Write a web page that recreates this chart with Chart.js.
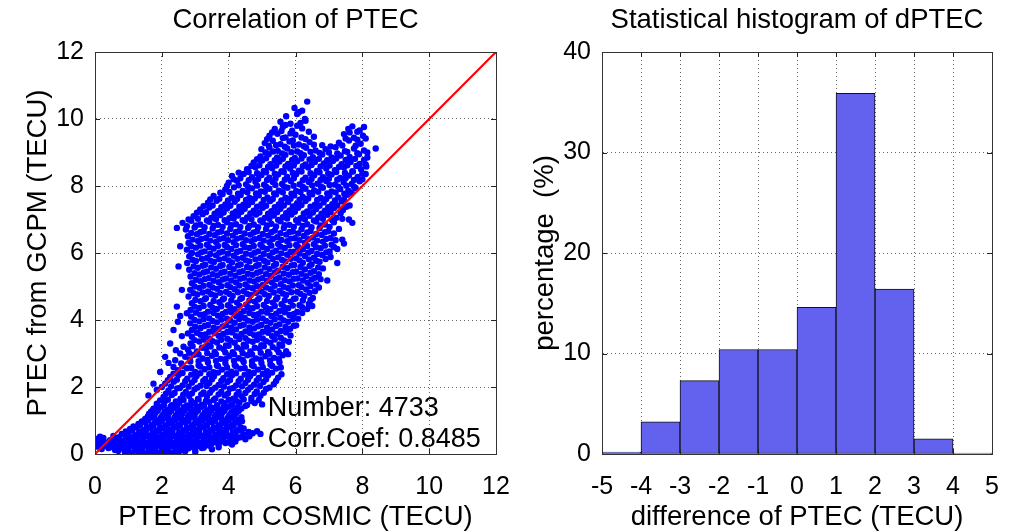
<!DOCTYPE html>
<html>
<head>
<meta charset="utf-8">
<script src="https://cdn.jsdelivr.net/npm/chart.js@4.4.1/dist/chart.umd.min.js"></script>
<style>
  html, body { margin: 0; padding: 0; background: #fff; }
  #wrap { position: relative; width: 1017px; height: 531px; }
  canvas { position: absolute; top: 0; }
</style>
</head>
<body>
<div id="wrap">
  <canvas id="scatter" width="530" height="531" style="left:0;width:530px;height:531px"></canvas>
  <canvas id="hist" width="487" height="531" style="left:530px;width:487px;height:531px"></canvas>
</div>
<script>
// PTEC pairs: [COSMIC, GCPM]
const ptecPoints = [
  [6.35,10.52],
  [5.97,10.33],[6.2,10.25],[6.1,10.2],
  [5.72,10.08],[6.05,10.15],[6.28,10.0],
  [5.55,9.92],[5.85,9.86],[6.3,9.95],[6.05,9.8],[5.7,9.82],[6.15,9.88],[7.7,9.78],
  [5.38,9.7],[5.62,9.76],[5.9,9.65],[6.2,9.72],[7.58,9.7],[8.05,9.76],[7.85,9.62],
  [5.3,9.6],[5.58,9.64],[5.85,9.57],[6.4,9.62],[7.62,9.6],[7.92,9.66],
  [5.22,9.5],[5.46,9.56],[5.7,9.45],[6.0,9.53],[6.55,9.47],[7.45,9.55],[7.75,9.44],[8.02,9.5],[6.3,9.4],
  [5.15,9.4],[5.62,9.43],[5.92,9.36],[6.18,9.45],[7.5,9.42],[7.85,9.38],[8.1,9.42],
  [5.08,9.28],[5.32,9.35],[5.55,9.25],[5.82,9.33],[6.1,9.24],[6.42,9.31],[7.3,9.29],[7.6,9.36],[7.95,9.26],[6.8,9.22],
  [5.2,9.2],[5.42,9.22],[5.68,9.17],[5.95,9.21],[6.25,9.19],[6.55,9.23],[7.05,9.18],[7.4,9.21],[7.8,9.2],
  [4.98,9.1],[5.22,9.15],[5.47,9.05],[5.75,9.12],[6.05,9.03],[6.32,9.14],[6.6,9.06],[6.9,9.1],[7.2,9.16],[7.48,9.04],[7.75,9.12],[8.05,9.06],[8.4,9.12],
  [5.1,9.0],[5.33,9.03],[5.6,8.97],[5.88,9.01],[6.15,8.98],[6.45,9.02],[6.72,8.99],[7.0,9.0],[7.25,8.97],[7.55,9.02],[7.85,8.98],[8.15,9.0],
  [4.95,8.88],[5.2,8.95],[5.45,8.85],[5.7,8.93],[5.98,8.84],[6.25,8.92],[6.52,8.86],[6.8,8.94],[7.08,8.85],[7.35,8.91],[7.62,8.87],[7.9,8.95],[8.15,8.85],
  [4.85,8.8],[5.12,8.83],[5.38,8.77],[5.62,8.81],[5.9,8.78],[6.18,8.82],[6.42,8.79],[6.7,8.81],[6.95,8.77],[7.22,8.82],[7.5,8.78],[7.78,8.81],[8.05,8.78],
  [4.75,8.7],[5.0,8.76],[5.25,8.65],[5.52,8.73],[5.78,8.66],[6.05,8.74],[6.3,8.64],[6.58,8.72],[6.85,8.67],[7.12,8.75],[7.38,8.65],[7.65,8.72],[7.92,8.66],[8.12,8.58],
  [4.68,8.6],[4.92,8.62],[5.18,8.57],[5.42,8.61],[5.7,8.58],[5.95,8.62],[6.22,8.59],[6.48,8.63],[6.75,8.58],[7.02,8.61],[7.3,8.57],[7.55,8.62],[7.82,8.6],[8.1,8.64],
  [4.55,8.5],[4.8,8.56],[5.05,8.45],[5.3,8.53],[5.58,8.44],[5.84,8.52],[6.1,8.46],[6.38,8.55],[6.64,8.45],[6.92,8.52],[7.18,8.47],[7.45,8.55],[7.7,8.44],[7.96,8.5],
  [4.3,8.4],[4.6,8.42],[4.85,8.38],[5.12,8.41],[5.38,8.37],[5.65,8.42],[5.92,8.39],[6.18,8.43],[6.45,8.38],[6.72,8.41],[6.98,8.37],[7.22,8.42],[7.48,8.39],[7.72,8.43],[8.0,8.38],
  [4.1,8.3],[4.45,8.36],[4.7,8.26],[4.98,8.33],[5.22,8.25],[5.48,8.34],[5.75,8.27],[6.02,8.35],[6.3,8.25],[6.56,8.32],[6.82,8.26],[7.08,8.34],[7.34,8.24],[7.6,8.31],[7.86,8.27],[8.1,8.36],
  [4.15,8.2],[4.35,8.23],[4.6,8.17],[4.88,8.21],[5.15,8.18],[5.4,8.22],[5.68,8.19],[5.95,8.23],[6.22,8.17],[6.48,8.21],[6.75,8.18],[7.0,8.22],[7.25,8.19],[7.5,8.23],[7.75,8.18],[8.0,8.2],
  [4.0,8.1],[4.25,8.16],[4.52,8.05],[4.8,8.13],[5.06,8.04],[5.32,8.12],[5.6,8.06],[5.86,8.15],[6.12,8.05],[6.4,8.12],[6.66,8.07],[6.92,8.15],[7.18,8.04],[7.44,8.11],[7.68,8.06],[7.92,8.14],
  [3.95,8.0],[4.3,8.02],[4.58,7.97],[4.85,8.01],[5.12,7.98],[5.4,8.03],[5.66,7.98],[5.94,8.01],[6.22,7.97],[6.5,8.02],[6.76,7.99],[7.02,8.03],[7.28,7.98],[7.52,8.01],[7.75,7.98],
  [3.9,7.9],[4.16,7.96],[4.42,7.85],[4.7,7.93],[4.96,7.84],[5.22,7.92],[5.5,7.86],[5.76,7.95],[6.02,7.85],[6.3,7.92],[6.56,7.87],[6.82,7.95],[7.08,7.84],[7.34,7.91],[7.58,7.86],[7.8,7.94],
  [3.75,7.8],[4.02,7.82],[4.28,7.77],[4.56,7.81],[4.82,7.78],[5.08,7.83],[5.36,7.78],[5.62,7.81],[5.88,7.77],[6.15,7.82],[6.42,7.79],[6.68,7.83],[6.95,7.78],[7.2,7.81],[7.46,7.77],[7.68,7.8],
  [3.55,7.7],[3.82,7.76],[4.1,7.65],[4.36,7.73],[4.62,7.64],[4.9,7.72],[5.16,7.66],[5.42,7.75],[5.7,7.65],[5.96,7.72],[6.22,7.67],[6.5,7.75],[6.76,7.64],[7.02,7.71],[7.28,7.66],[7.55,7.74],
  [3.45,7.6],[3.72,7.62],[3.98,7.57],[4.25,7.61],[4.52,7.58],[4.78,7.63],[5.05,7.58],[5.32,7.61],[5.58,7.57],[5.85,7.62],[6.12,7.59],[6.38,7.63],[6.65,7.58],[6.92,7.61],[7.18,7.57],[7.45,7.6],
  [3.38,7.5],[3.64,7.56],[3.9,7.45],[4.18,7.53],[4.44,7.44],[4.7,7.52],[4.98,7.46],[5.24,7.55],[5.5,7.45],[5.78,7.52],[6.04,7.47],[6.3,7.55],[6.58,7.44],[6.84,7.51],[7.1,7.46],[7.38,7.54],[7.62,7.42],
  [3.25,7.4],[3.52,7.42],[3.78,7.37],[4.05,7.41],[4.32,7.38],[4.58,7.43],[4.85,7.38],[5.12,7.41],[5.38,7.37],[5.65,7.42],[5.92,7.39],[6.18,7.43],[6.45,7.38],[6.72,7.41],[6.98,7.37],[7.25,7.42],[7.52,7.38],
  [3.15,7.3],[3.42,7.36],[3.68,7.25],[3.95,7.33],[4.22,7.24],[4.48,7.32],[4.75,7.26],[5.02,7.35],[5.28,7.25],[5.55,7.32],[5.82,7.27],[6.08,7.35],[6.35,7.24],[6.62,7.31],[6.88,7.26],[7.15,7.34],[7.42,7.28],
  [3.05,7.2],[3.32,7.22],[3.58,7.17],[3.85,7.21],[4.12,7.18],[4.38,7.23],[4.65,7.18],[4.92,7.21],[5.18,7.17],[5.45,7.22],[5.72,7.19],[5.98,7.23],[6.25,7.18],[6.52,7.21],[6.78,7.17],[7.05,7.22],[7.35,7.18],
  [2.95,7.1],[3.22,7.16],[3.48,7.05],[3.75,7.13],[4.02,7.04],[4.28,7.12],[4.55,7.06],[4.82,7.15],[5.08,7.05],[5.35,7.12],[5.62,7.07],[5.88,7.15],[6.15,7.04],[6.42,7.11],[6.68,7.06],[6.95,7.14],[7.22,7.05],[7.6,7.0],
  [2.8,7.0],[3.08,7.02],[3.35,6.97],[3.62,7.01],[3.88,6.98],[4.15,7.03],[4.42,6.98],[4.68,7.01],[4.95,6.97],[5.22,7.02],[5.48,6.99],[5.75,7.03],[6.02,6.98],[6.28,7.01],[6.55,6.97],[6.82,7.02],[7.1,6.98],[7.4,7.02],
  [2.62,6.9],[2.88,6.96],[3.15,6.85],[3.42,6.93],[3.68,6.84],[3.95,6.92],[4.22,6.86],[4.48,6.95],[4.75,6.85],[5.02,6.92],[5.28,6.87],[5.55,6.95],[5.82,6.84],[6.08,6.91],[6.35,6.86],[6.62,6.94],[6.88,6.85],[7.15,6.92],[7.7,6.9],
  [2.75,6.8],[3.02,6.82],[3.28,6.77],[3.55,6.81],[3.82,6.78],[4.08,6.83],[4.35,6.78],[4.62,6.81],[4.88,6.77],[5.15,6.82],[5.42,6.79],[5.68,6.83],[5.95,6.78],[6.22,6.81],[6.48,6.77],[6.75,6.82],[7.02,6.78],[2.45,6.75],
  [2.72,6.7],[2.98,6.76],[3.25,6.65],[3.52,6.73],[3.78,6.64],[4.05,6.72],[4.32,6.66],[4.58,6.75],[4.85,6.65],[5.12,6.72],[5.38,6.67],[5.65,6.75],[5.92,6.64],[6.18,6.71],[6.45,6.66],[6.72,6.74],[6.98,6.65],[7.3,6.72],
  [2.88,6.6],[3.15,6.62],[3.42,6.57],[3.68,6.61],[3.95,6.58],[4.22,6.63],[4.48,6.58],[4.75,6.61],[5.02,6.57],[5.28,6.62],[5.55,6.59],[5.82,6.63],[6.08,6.58],[6.35,6.61],[6.62,6.57],[6.88,6.62],[7.15,6.58],
  [2.78,6.5],[3.05,6.56],[3.32,6.45],[3.58,6.53],[3.85,6.44],[4.12,6.52],[4.38,6.46],[4.65,6.55],[4.92,6.45],[5.18,6.52],[5.45,6.47],[5.72,6.55],[5.98,6.44],[6.25,6.51],[6.52,6.46],[6.78,6.54],[7.05,6.45],[7.4,6.4],
  [2.92,6.4],[3.18,6.42],[3.45,6.37],[3.72,6.41],[3.98,6.38],[4.25,6.43],[4.52,6.38],[4.78,6.41],[5.05,6.37],[5.32,6.42],[5.58,6.39],[5.85,6.43],[6.12,6.38],[6.38,6.41],[6.65,6.37],[6.92,6.42],[7.2,6.38],
  [2.8,6.3],[3.08,6.36],[3.35,6.25],[3.62,6.33],[3.88,6.24],[4.15,6.32],[4.42,6.26],[4.68,6.35],[4.95,6.25],[5.22,6.32],[5.48,6.27],[5.75,6.35],[6.02,6.24],[6.28,6.31],[6.55,6.26],[6.82,6.34],[7.08,6.25],[7.45,6.28],
  [2.88,6.2],[3.15,6.22],[3.42,6.17],[3.68,6.21],[3.95,6.18],[4.22,6.23],[4.48,6.18],[4.75,6.21],[5.02,6.17],[5.28,6.22],[5.55,6.19],[5.82,6.23],[6.08,6.18],[6.35,6.21],[6.62,6.17],[6.88,6.22],[7.15,6.18],[2.55,6.2],
  [2.75,6.1],[3.02,6.16],[3.28,6.05],[3.55,6.13],[3.82,6.04],[4.08,6.12],[4.35,6.06],[4.62,6.15],[4.88,6.05],[5.15,6.12],[5.42,6.07],[5.68,6.15],[5.95,6.04],[6.22,6.11],[6.48,6.06],[6.75,6.14],[7.02,6.05],[7.25,6.12],
  [2.9,6.0],[3.18,6.02],[3.45,5.97],[3.72,6.01],[3.98,5.98],[4.25,6.03],[4.52,5.98],[4.78,6.01],[5.05,5.97],[5.32,6.02],[5.58,5.99],[5.85,6.03],[6.12,5.98],[6.38,6.01],[6.65,5.97],[6.92,6.02],
  [2.82,5.9],[3.08,5.96],[3.35,5.85],[3.62,5.93],[3.88,5.84],[4.15,5.92],[4.42,5.86],[4.68,5.95],[4.95,5.85],[5.22,5.92],[5.48,5.87],[5.75,5.95],[6.02,5.84],[6.28,5.91],[6.55,5.86],[6.8,5.94],[7.05,5.88],
  [2.92,5.8],[3.2,5.82],[3.46,5.77],[3.72,5.81],[4.0,5.78],[4.26,5.83],[4.52,5.78],[4.8,5.81],[5.06,5.77],[5.32,5.82],[5.6,5.79],[5.86,5.83],[6.12,5.78],[6.4,5.81],[6.62,5.77],[6.9,5.82],
  [2.76,5.7],[3.02,5.76],[3.3,5.65],[3.56,5.73],[3.82,5.64],[4.1,5.72],[4.36,5.66],[4.62,5.75],[4.9,5.65],[5.16,5.72],[5.42,5.67],[5.7,5.75],[5.96,5.64],[6.22,5.71],[6.48,5.66],[6.72,5.74],[7.25,5.7],
  [2.95,5.6],[3.22,5.62],[3.48,5.57],[3.75,5.61],[4.02,5.58],[4.28,5.63],[4.55,5.58],[4.82,5.61],[5.08,5.57],[5.35,5.62],[5.62,5.59],[5.88,5.63],[6.15,5.58],[6.42,5.61],[6.68,5.57],[2.5,5.6],
  [2.82,5.5],[3.08,5.56],[3.35,5.45],[3.62,5.53],[3.88,5.44],[4.15,5.52],[4.42,5.46],[4.68,5.55],[4.95,5.45],[5.22,5.52],[5.48,5.47],[5.75,5.55],[6.02,5.44],[6.28,5.51],[6.55,5.46],[6.82,5.54],
  [2.98,5.4],[3.25,5.42],[3.52,5.37],[3.78,5.41],[4.05,5.38],[4.32,5.43],[4.58,5.38],[4.85,5.41],[5.12,5.37],[5.38,5.42],[5.65,5.39],[5.92,5.43],[6.18,5.38],[6.45,5.41],[6.7,5.37],
  [2.86,5.3],[3.12,5.36],[3.4,5.25],[3.66,5.33],[3.92,5.24],[4.2,5.32],[4.46,5.26],[4.72,5.35],[5.0,5.25],[5.26,5.32],[5.52,5.27],[5.8,5.35],[6.06,5.24],[6.32,5.31],[6.58,5.26],
  [3.02,5.2],[3.28,5.22],[3.55,5.17],[3.82,5.21],[4.08,5.18],[4.35,5.23],[4.62,5.18],[4.88,5.21],[5.15,5.17],[5.42,5.22],[5.68,5.19],[5.95,5.23],[6.22,5.18],[6.48,5.21],[6.75,5.22],
  [2.9,5.1],[3.16,5.16],[3.42,5.05],[3.7,5.13],[3.96,5.04],[4.22,5.12],[4.5,5.06],[4.76,5.15],[5.02,5.05],[5.3,5.12],[5.56,5.07],[5.82,5.15],[6.1,5.04],[6.36,5.11],[6.62,5.06],[6.95,5.18],
  [2.98,5.0],[3.25,5.02],[3.52,4.97],[3.78,5.01],[4.05,4.98],[4.32,5.03],[4.58,4.98],[4.85,5.01],[5.12,4.97],[5.38,5.02],[5.65,4.99],[5.92,5.03],[6.18,4.98],[6.45,5.01],[6.7,4.97],[2.6,4.9],
  [2.85,4.9],[3.12,4.96],[3.38,4.85],[3.65,4.93],[3.92,4.84],[4.18,4.92],[4.45,4.86],[4.72,4.95],[4.98,4.85],[5.25,4.92],[5.52,4.87],[5.78,4.95],[6.05,4.84],[6.32,4.91],[6.58,4.86],
  [2.95,4.8],[3.22,4.82],[3.48,4.77],[3.75,4.81],[4.02,4.78],[4.28,4.83],[4.55,4.78],[4.82,4.81],[5.08,4.77],[5.35,4.82],[5.62,4.79],[5.88,4.83],[6.15,4.78],[6.42,4.81],
  [2.8,4.7],[3.06,4.76],[3.32,4.65],[3.6,4.73],[3.86,4.64],[4.12,4.72],[4.4,4.66],[4.66,4.75],[4.92,4.65],[5.2,4.72],[5.46,4.67],[5.72,4.75],[6.0,4.64],[6.26,4.71],[6.52,4.66],
  [3.0,4.6],[3.28,4.62],[3.55,4.57],[3.82,4.61],[4.08,4.58],[4.35,4.63],[4.62,4.58],[4.88,4.61],[5.15,4.57],[5.42,4.62],[5.68,4.59],[5.95,4.63],[6.22,4.58],[6.45,4.6],
  [2.9,4.5],[3.16,4.56],[3.45,4.45],[3.72,4.53],[3.98,4.44],[4.25,4.52],[4.52,4.46],[4.78,4.55],[5.05,4.45],[5.32,4.52],[5.58,4.47],[5.85,4.55],[6.12,4.44],[6.4,4.48],
  [2.98,4.4],[3.25,4.42],[3.52,4.37],[3.78,4.41],[4.05,4.38],[4.32,4.43],[4.58,4.38],[4.85,4.41],[5.12,4.37],[5.38,4.42],[5.65,4.39],[5.92,4.43],[6.2,4.38],[2.45,4.4],
  [2.86,4.3],[3.12,4.36],[3.38,4.25],[3.65,4.33],[3.92,4.24],[4.18,4.32],[4.45,4.26],[4.72,4.35],[4.98,4.25],[5.25,4.32],[5.52,4.27],[5.78,4.35],[6.05,4.24],[6.35,4.33],[6.5,4.42],
  [2.75,4.2],[3.02,4.22],[3.28,4.17],[3.55,4.21],[3.82,4.18],[4.08,4.23],[4.35,4.18],[4.62,4.21],[4.88,4.17],[5.15,4.22],[5.42,4.19],[5.68,4.23],[5.95,4.18],[6.2,4.21],
  [2.55,4.12],[2.88,4.1],[3.15,4.16],[3.42,4.05],[3.68,4.13],[3.95,4.04],[4.22,4.12],[4.48,4.06],[4.75,4.15],[5.02,4.05],[5.28,4.12],[5.55,4.07],[5.82,4.15],[6.08,4.04],
  [2.98,4.0],[3.25,4.02],[3.52,3.97],[3.78,4.01],[4.05,3.98],[4.32,4.03],[4.58,3.98],[4.85,4.01],[5.12,3.97],[5.38,4.02],[5.65,3.99],[5.92,4.03],[2.48,3.95],
  [2.85,3.9],[3.12,3.96],[3.38,3.85],[3.65,3.93],[3.92,3.84],[4.18,3.92],[4.45,3.86],[4.72,3.95],[4.98,3.85],[5.25,3.92],[5.52,3.87],[5.78,3.95],[6.02,3.84],
  [3.0,3.8],[3.28,3.82],[3.55,3.77],[3.82,3.81],[4.08,3.78],[4.35,3.83],[4.62,3.78],[4.88,3.81],[5.15,3.77],[5.42,3.82],[5.7,3.79],[5.95,3.83],
  [2.9,3.7],[3.16,3.76],[3.42,3.65],[3.7,3.73],[3.96,3.64],[4.22,3.72],[4.5,3.66],[4.76,3.75],[5.02,3.65],[5.3,3.72],[5.56,3.67],[5.84,3.74],[2.35,3.7],
  [2.78,3.6],[3.05,3.62],[3.3,3.57],[3.58,3.61],[3.84,3.58],[4.1,3.63],[4.38,3.58],[4.64,3.61],[4.9,3.57],[5.18,3.62],[5.44,3.59],[5.72,3.63],
  [2.6,3.52],[2.9,3.5],[3.16,3.56],[3.42,3.45],[3.7,3.53],[3.96,3.44],[4.22,3.52],[4.5,3.46],[4.76,3.55],[5.02,3.45],[5.3,3.52],[5.56,3.47],[5.85,3.54],
  [2.98,3.4],[3.25,3.42],[3.52,3.37],[3.78,3.41],[4.05,3.38],[4.32,3.43],[4.58,3.38],[4.85,3.41],[5.12,3.37],[5.38,3.42],[5.66,3.39],
  [2.86,3.3],[3.12,3.36],[3.38,3.25],[3.65,3.33],[3.92,3.24],[4.18,3.32],[4.45,3.26],[4.72,3.35],[4.98,3.25],[5.25,3.32],[5.52,3.27],[5.8,3.35],[2.25,3.3],
  [2.65,3.2],[2.92,3.22],[3.2,3.17],[3.46,3.21],[3.72,3.18],[4.0,3.23],[4.25,3.18],[4.52,3.21],[4.78,3.17],[5.05,3.22],[5.32,3.19],[5.6,3.23],
  [2.42,3.1],[2.78,3.12],[3.05,3.06],[3.32,3.15],[3.58,3.05],[3.85,3.13],[4.12,3.04],[4.38,3.12],[4.65,3.06],[4.92,3.15],[5.18,3.05],[5.45,3.12],[5.72,3.07],
  [2.55,3.0],[2.82,3.02],[3.1,2.97],[3.36,3.01],[3.62,2.98],[3.9,3.03],[4.16,2.98],[4.42,3.01],[4.7,2.97],[4.96,3.02],[5.22,2.99],[5.5,3.03],[5.78,2.98],
  [2.7,2.9],[2.96,2.96],[3.22,2.85],[3.5,2.93],[3.76,2.84],[4.02,2.92],[4.3,2.86],[4.56,2.95],[4.82,2.85],[5.1,2.92],[5.36,2.87],[5.62,2.95],[2.1,2.9],
  [2.4,2.8],[2.84,2.82],[3.1,2.77],[3.36,2.81],[3.62,2.78],[3.9,2.83],[4.16,2.78],[4.42,2.81],[4.7,2.77],[4.96,2.82],[5.24,2.79],[5.5,2.83],
  [2.2,2.72],[2.58,2.7],[2.85,2.76],[3.1,2.65],[3.38,2.73],[3.65,2.64],[3.9,2.72],[4.18,2.66],[4.45,2.75],[4.7,2.65],[4.98,2.72],[5.25,2.67],[5.52,2.74],
  [2.35,2.6],[2.62,2.62],[2.88,2.57],[3.15,2.61],[3.42,2.58],[3.68,2.63],[3.95,2.58],[4.22,2.61],[4.48,2.57],[4.75,2.62],[5.02,2.59],[5.3,2.63],[5.56,2.58],
  [2.48,2.5],[2.75,2.56],[3.0,2.45],[3.28,2.53],[3.55,2.44],[3.8,2.52],[4.08,2.46],[4.35,2.55],[4.6,2.45],[4.88,2.52],[5.15,2.47],[5.42,2.55],[1.95,2.45],
  [2.35,2.4],[2.62,2.42],[2.88,2.37],[3.15,2.41],[3.42,2.38],[3.68,2.43],[3.95,2.38],[4.22,2.41],[4.48,2.37],[4.75,2.42],[5.02,2.39],[5.3,2.43],[5.58,2.38],
  [2.25,2.3],[2.5,2.36],[2.76,2.25],[3.04,2.33],[3.3,2.24],[3.56,2.32],[3.84,2.26],[4.1,2.35],[4.36,2.25],[4.64,2.32],[4.9,2.27],[5.18,2.35],[5.48,2.28],
  [2.18,2.2],[2.45,2.22],[2.7,2.17],[2.98,2.21],[3.24,2.18],[3.5,2.23],[3.78,2.18],[4.04,2.21],[4.3,2.17],[4.58,2.22],[4.84,2.19],[5.12,2.23],[5.42,2.18],
  [2.1,2.1],[2.36,2.16],[2.62,2.05],[2.9,2.13],[3.16,2.04],[3.42,2.12],[3.7,2.06],[3.96,2.15],[4.22,2.05],[4.5,2.12],[4.76,2.07],[5.04,2.15],[5.35,2.08],[1.75,2.1],
  [2.0,2.0],[2.28,2.02],[2.54,1.97],[2.8,2.01],[3.06,1.98],[3.34,2.03],[3.6,1.98],[3.86,2.01],[4.14,1.97],[4.4,2.02],[4.66,1.99],[4.94,2.03],[5.22,1.98],
  [1.85,1.92],[2.2,1.9],[2.46,1.96],[2.72,1.85],[2.98,1.93],[3.25,1.84],[3.5,1.92],[3.78,1.86],[4.04,1.95],[4.3,1.85],[4.58,1.92],[4.84,1.87],[5.12,1.94],
  [2.12,1.8],[2.38,1.82],[2.64,1.77],[2.9,1.81],[3.18,1.78],[3.44,1.83],[3.7,1.78],[3.98,1.81],[4.24,1.77],[4.5,1.82],[4.78,1.79],[5.05,1.83],[1.6,1.75],
  [2.05,1.7],[2.3,1.76],[2.56,1.65],[2.82,1.73],[3.08,1.64],[3.35,1.72],[3.6,1.66],[3.88,1.75],[4.14,1.65],[4.4,1.72],[4.68,1.67],[4.95,1.74],
  [1.95,1.6],[2.18,1.62],[2.42,1.57],[2.65,1.61],[2.88,1.58],[3.1,1.63],[3.32,1.58],[3.55,1.61],[3.78,1.57],[4.0,1.62],[4.22,1.59],[4.45,1.63],[4.68,1.58],[4.9,1.61],
  [1.85,1.5],[2.08,1.55],[2.3,1.46],[2.52,1.53],[2.75,1.45],[2.98,1.52],[3.2,1.47],[3.42,1.55],[3.65,1.45],[3.88,1.52],[4.1,1.47],[4.32,1.54],[4.55,1.46],[4.78,1.52],[5.0,1.48],
  [1.85,1.43],[2.06,1.45],[2.26,1.41],[2.46,1.44],[2.66,1.4],[2.86,1.45],[3.06,1.42],[3.26,1.44],[3.46,1.4],[3.66,1.45],[3.86,1.42],[4.06,1.44],[4.26,1.4],[4.5,1.43],
  [1.75,1.35],[1.96,1.4],[2.16,1.31],[2.36,1.38],[2.56,1.3],[2.76,1.37],[2.96,1.32],[3.16,1.4],[3.36,1.3],[3.56,1.37],[3.76,1.32],[3.96,1.4],[4.16,1.3],[4.38,1.36],
  [1.68,1.27],[1.88,1.3],[2.08,1.26],[2.28,1.29],[2.48,1.25],[2.68,1.3],[2.88,1.27],[3.08,1.29],[3.28,1.25],[3.48,1.3],[3.68,1.27],[3.88,1.29],[4.08,1.25],[4.3,1.28],
  [1.62,1.2],[1.82,1.25],[2.02,1.16],[2.22,1.23],[2.42,1.15],[2.62,1.22],[2.82,1.17],[3.02,1.25],[3.22,1.15],[3.42,1.22],[3.62,1.17],[3.82,1.25],[4.02,1.15],[4.22,1.22],
  [1.58,1.12],[1.78,1.14],[1.98,1.1],[2.18,1.13],[2.38,1.09],[2.58,1.14],[2.78,1.11],[2.98,1.13],[3.18,1.09],[3.38,1.14],[3.58,1.11],[3.78,1.13],[3.98,1.09],[4.18,1.14],[4.38,1.1],
  [1.5,1.05],[1.7,1.1],[1.9,1.01],[2.1,1.08],[2.3,1.0],[2.5,1.07],[2.7,1.02],[2.9,1.1],[3.1,1.0],[3.3,1.07],[3.5,1.02],[3.7,1.1],[3.9,1.0],[4.1,1.07],[4.3,1.02],
  [1.4,0.97],[1.6,1.0],[1.8,0.96],[2.0,0.99],[2.2,0.95],[2.4,1.0],[2.6,0.97],[2.8,0.99],[3.0,0.95],[3.2,1.0],[3.4,0.97],[3.6,0.99],[3.8,0.95],[4.0,1.0],[4.2,0.96],[4.4,0.98],
  [1.3,0.9],[1.5,0.95],[1.7,0.86],[1.9,0.93],[2.1,0.85],[2.3,0.92],[2.5,0.87],[2.7,0.95],[2.9,0.85],[3.1,0.92],[3.3,0.87],[3.5,0.95],[3.7,0.85],[3.9,0.92],[4.1,0.87],[4.3,0.94],
  [1.15,0.82],[1.35,0.85],[1.55,0.81],[1.75,0.84],[1.95,0.8],[2.15,0.85],[2.35,0.82],[2.55,0.84],[2.75,0.8],[2.95,0.85],[3.15,0.82],[3.35,0.84],[3.55,0.8],[3.75,0.85],[3.95,0.82],[4.15,0.84],[4.35,0.8],
  [1.05,0.75],[1.25,0.8],[1.45,0.71],[1.65,0.78],[1.85,0.7],[2.05,0.77],[2.25,0.72],[2.45,0.8],[2.65,0.7],[2.85,0.77],[3.05,0.72],[3.25,0.8],[3.45,0.7],[3.65,0.77],[3.85,0.72],[4.05,0.8],[4.25,0.7],[4.45,0.76],
  [0.92,0.67],[1.12,0.7],[1.32,0.66],[1.52,0.69],[1.72,0.65],[1.92,0.7],[2.12,0.67],[2.32,0.69],[2.52,0.65],[2.72,0.7],[2.92,0.67],[3.12,0.69],[3.32,0.65],[3.52,0.7],[3.72,0.67],[3.92,0.69],[4.12,0.65],[4.35,0.7],[4.6,0.66],[4.85,0.68],
  [0.8,0.6],[1.0,0.64],[1.2,0.56],[1.4,0.63],[1.6,0.55],[1.8,0.62],[2.0,0.57],[2.2,0.65],[2.4,0.55],[2.6,0.62],[2.8,0.57],[3.0,0.65],[3.2,0.55],[3.4,0.62],[3.6,0.57],[3.8,0.65],[4.0,0.55],[4.2,0.62],[4.45,0.58],[4.72,0.62],[4.95,0.6],
  [0.15,0.52],[0.55,0.54],[0.72,0.5],[0.92,0.53],[1.12,0.5],[1.32,0.55],[1.52,0.52],[1.72,0.54],[1.92,0.5],[2.12,0.55],[2.32,0.52],[2.52,0.54],[2.72,0.5],[2.92,0.55],[3.12,0.52],[3.32,0.54],[3.52,0.5],[3.72,0.55],[3.92,0.52],[4.12,0.54],[4.35,0.5],[4.62,0.53],
  [0.05,0.45],[0.25,0.48],[0.45,0.41],[0.65,0.47],[0.85,0.4],[1.05,0.47],[1.25,0.42],[1.45,0.49],[1.65,0.4],[1.85,0.47],[2.05,0.42],[2.25,0.49],[2.45,0.4],[2.65,0.47],[2.85,0.42],[3.05,0.49],[3.25,0.4],[3.45,0.47],[3.65,0.42],[3.85,0.49],[4.05,0.4],[4.25,0.47],[4.5,0.44],
  [0.02,0.37],[0.2,0.39],[0.4,0.35],[0.6,0.38],[0.8,0.34],[1.0,0.39],[1.2,0.36],[1.4,0.38],[1.6,0.34],[1.8,0.39],[2.0,0.36],[2.2,0.38],[2.4,0.34],[2.6,0.39],[2.8,0.36],[3.0,0.38],[3.2,0.34],[3.4,0.39],[3.6,0.36],[3.8,0.38],[4.0,0.34],[4.2,0.37],
  [0.1,0.3],[0.3,0.33],[0.5,0.26],[0.7,0.32],[0.9,0.25],[1.1,0.32],[1.3,0.27],[1.5,0.34],[1.7,0.25],[1.9,0.32],[2.1,0.27],[2.3,0.34],[2.5,0.25],[2.7,0.32],[2.9,0.27],[3.1,0.34],[3.3,0.25],[3.5,0.32],[3.7,0.27],[3.9,0.33],[4.1,0.28],
  [0.05,0.22],[0.25,0.24],[0.45,0.2],[0.65,0.23],[0.85,0.19],[1.05,0.24],[1.25,0.21],[1.45,0.23],[1.65,0.19],[1.85,0.24],[2.05,0.21],[2.25,0.23],[2.45,0.19],[2.65,0.24],[2.85,0.21],[3.05,0.23],[3.25,0.19],[3.45,0.24],[3.7,0.2],
  [0.2,0.15],[0.4,0.18],[0.6,0.12],[0.8,0.17],[1.0,0.11],[1.2,0.17],[1.4,0.12],[1.6,0.19],[1.8,0.11],[2.0,0.17],[2.2,0.12],[2.4,0.19],[2.6,0.11],[2.8,0.17],[3.0,0.12],[3.2,0.18],[3.5,0.14],
  [0.7,0.09],[1.0,0.08],[1.2,0.1],[1.4,0.07],[1.6,0.09],[1.8,0.08],[2.0,0.1],[2.2,0.07],[2.4,0.09],[2.7,0.08],[3.0,0.06],
  [0.9,0.05],[1.1,0.03],[1.3,0.06],[1.5,0.02],[1.7,0.05],[1.9,0.03],[2.1,0.06],[2.3,0.02],[2.5,0.05]
]

// y = x reference line end points
const refLine = [0, 12]

const statsText = ["Number: 4733", "Corr.Coef: 0.8485"]

// histogram of dPTEC
const binCenters = [-4.5, -3.5, -2.5, -1.5, -0.5, 0.5, 1.5, 2.5, 3.5, 4.5]
const binPercent = [0.2, 3.2, 7.3, 10.4, 10.4, 14.6, 35.9, 16.4, 1.5, 0.1]

const FONT = '"Liberation Sans", Arial, sans-serif'
Chart.defaults.font.family = FONT
Chart.defaults.color = "#000"

// box + inward tick marks, matlab style
const frame = {
    id: "frame",
    afterDraw(chart) {
        const { ctx, chartArea: a, scales } = chart
        ctx.save()
        ctx.strokeStyle = "#222"
        ctx.lineWidth = 1
        ctx.beginPath()
        scales.x.ticks.forEach(t => {
            const px = Math.round(scales.x.getPixelForValue(t.value)) + 0.5
            ctx.moveTo(px, a.bottom); ctx.lineTo(px, a.bottom - 5)
            ctx.moveTo(px, a.top); ctx.lineTo(px, a.top + 5)
        })
        scales.y.ticks.forEach(t => {
            const py = Math.round(scales.y.getPixelForValue(t.value)) + 0.5
            ctx.moveTo(a.left, py); ctx.lineTo(a.left + 5, py)
            ctx.moveTo(a.right, py); ctx.lineTo(a.right - 5, py)
        })
        ctx.stroke()
        ctx.strokeStyle = "#333"
        ctx.strokeRect(Math.round(a.left) + 0.5, Math.round(a.top) + 0.5, Math.round(a.width), Math.round(a.height))
        ctx.restore()
    }
}

const stats = {
    id: "stats",
    afterDatasetsDraw(chart) {
        const { ctx, scales } = chart
        ctx.save()
        ctx.font = "27px " + FONT
        ctx.fillStyle = "#000"
        ctx.textBaseline = "middle"
        ctx.textAlign = "left"
        const x = scales.x.getPixelForValue(5.17)
        ctx.fillText(statsText[0], x, scales.y.getPixelForValue(1.36))
        ctx.fillText(statsText[1], x, scales.y.getPixelForValue(0.44))
        ctx.restore()
    }
}

function axis(min, max, step, label, titlePad, size, isX) {
    return {
        type: "linear",
        min: min,
        max: max,
        offset: false,
        grid: { color: "#666", lineWidth: 1, drawTicks: false, offset: false },
        border: { display: true, color: "#333", dash: [1, 3] },
        ticks: {
            stepSize: step,
            font: { size: 25 },
            padding: isX ? 18 : 11,
            maxRotation: 0
        },
        title: { display: true, text: label, font: { size: 27.5, lineHeight: 1 }, padding: titlePad },
        afterFit(s) { if (isX) s.height = size; else s.width = size }
    }
}

function titleOpts(text) {
    return {
        display: true,
        text: text,
        fullSize: false,
        font: { size: 27.5, weight: "normal", lineHeight: 1.2 },
        color: "#000",
        padding: { top: 3.5, bottom: 15.5 }
    }
}

new Chart(document.getElementById("scatter"), {
    type: "scatter",
    data: {
        datasets: [
            {
                type: "line",
                data: refLine.map(v => ({ x: v, y: v })),
                borderColor: "rgb(255,0,0)",
                borderWidth: 2.2,
                pointRadius: 0
            },
            {
                data: ptecPoints.map(p => ({ x: p[0], y: p[1] })),
                backgroundColor: "rgb(0,0,255)",
                borderWidth: 0,
                pointRadius: 3.2
            }
        ]
    },
    options: {
        responsive: false,
        animation: false,
        events: [],
        layout: { padding: { left: 0, right: 34, top: 0, bottom: 0 } },
        plugins: {
            legend: { display: false },
            tooltip: { enabled: false },
            title: titleOpts("Correlation of PTEC")
        },
        scales: {
            x: axis(0, 12, 2, "PTEC from COSMIC (TECU)", { top: 0, bottom: 0.25 }, 77, true),
            y: axis(0, 12, 2, "PTEC from GCPM (TECU)", { top: 24.25, bottom: 0 }, 95, false)
        }
    },
    plugins: [frame, stats]
})

new Chart(document.getElementById("hist"), {
    type: "bar",
    data: {
        datasets: [{
            data: binCenters.map((c, i) => ({ x: c, y: binPercent[i] })),
            backgroundColor: "rgb(98,98,238)",
            borderColor: "#111",
            borderWidth: 1,
            borderSkipped: false,
            barPercentage: 1,
            categoryPercentage: 1
        }]
    },
    options: {
        responsive: false,
        animation: false,
        events: [],
        layout: { padding: { left: 0, right: 17, top: 0, bottom: 0 } },
        plugins: {
            legend: { display: false },
            tooltip: { enabled: false },
            title: titleOpts("Statistical histogram of dPTEC")
        },
        scales: {
            x: axis(-5, 5, 1, "difference of PTEC (TECU)", { top: 0, bottom: 0.25 }, 77, true),
            y: axis(0, 40, 10, "percentage  (%)", { top: 1.25, bottom: 0 }, 72, false)
        }
    },
    plugins: [frame]
})
</script>
</body>
</html>
